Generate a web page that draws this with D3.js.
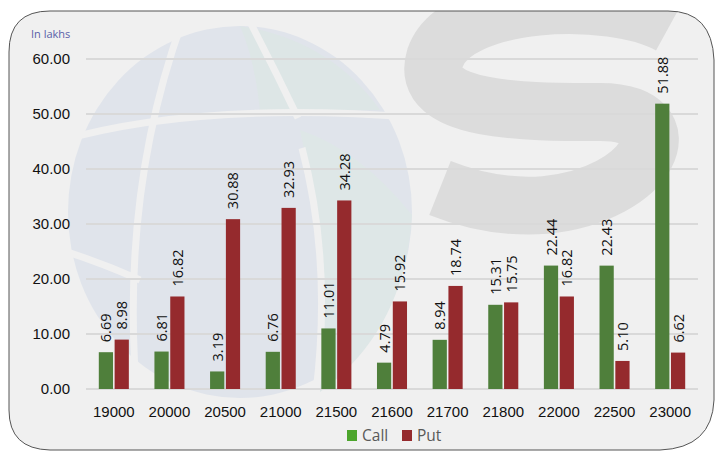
<!DOCTYPE html>
<html>
<head>
<meta charset="utf-8">
<script src="https://cdn.jsdelivr.net/npm/d3@7"></script>
<style>
  body { margin: 0; background: #fff; }
  svg { font-family: "Open Sans", "Noto Sans", sans-serif; }
</style>
</head>
<body>
<div id="chart-area"></div>
<script>
// strike prices and open interest (in lakhs)
var strikes = ["19000", "20000", "20500", "21000", "21500", "21600", "21700", "21800", "22000", "22500", "23000"];
var callValues = [6.69, 6.81, 3.19, 6.76, 11.01, 4.79, 8.94, 15.31, 22.44, 22.43, 51.88];
var putValues = [8.98, 16.82, 30.88, 32.93, 34.28, 15.92, 18.74, 15.75, 16.82, 5.10, 6.62];
var yTicks = [0, 10, 20, 30, 40, 50, 60];
var seriesNames = ["Call", "Put"];

var W = 715, H = 453;
var margin = { left: 86, right: 17, top: 59, bottom: 64 };
var w = W - margin.left - margin.right;
var h = H - margin.top - margin.bottom;

var green = "#4f7f3b", red = "#952a2d";

var svg = d3.select("#chart-area")
    .append("svg")
    .attr("width", W)
    .attr("height", H);

// card background
var cardPath = "M9,52 Q9,11 50,11 L668,11 Q712,11 714,60 L714,400 Q712,448 660,450 L50,450 Q9,449 9,410 Z";
svg.append("clipPath").attr("id", "card")
    .append("path").attr("d", cardPath);
svg.append("path")
    .attr("d", cardPath)
    .attr("fill", "#f0f0f0");

// faint logo behind the plot: a segmented globe and a large S
var wm = svg.append("g").attr("clip-path", "url(#card)");
wm.append("ellipse")
    .attr("cx", 240).attr("cy", 212)
    .attr("rx", 172).attr("ry", 186)
    .attr("fill", "#e0e4eb");
wm.append("path")
    .attr("d", "M300,130 Q360,150 412,215 Q405,330 320,392 Q330,260 300,130 Z")
    .attr("fill", "#dee7e7");
wm.append("path")
    .attr("d", "M240,26 Q330,40 380,110 L260,112 Q255,60 240,26 Z")
    .attr("fill", "#dde6e6");
var cuts = [
    "M55,142 Q200,100 420,118",
    "M182,22 Q118,200 138,410",
    "M250,22 Q275,70 298,118",
    "M302,148 Q332,262 316,392",
    "M55,248 Q100,262 140,280"
];
wm.selectAll("path.cut")
    .data(cuts)
    .enter()
    .append("path")
    .attr("class", "cut")
    .attr("d", function (d) { return d; })
    .attr("fill", "none")
    .attr("stroke", "#f0f0f0")
    .attr("stroke-width", 7);
wm.append("path")
    .attr("d", "M670,25 C610,-8 455,-2 435,58 C418,112 525,112 600,112 C690,112 650,195 545,205 C505,208 470,200 440,188")
    .attr("fill", "none")
    .attr("stroke", "#dcdcdc")
    .attr("stroke-width", 58);

// card outline
svg.append("path")
    .attr("d", cardPath)
    .attr("fill", "none")
    .attr("stroke", "#555")
    .attr("stroke-width", 1);

var g = svg.append("g")
    .attr("transform", "translate(" + margin.left + "," + margin.top + ")");

var x = d3.scaleBand()
    .domain(strikes)
    .range([0, w])
    .paddingInner(0.46)
    .paddingOuter(0.23);

var x1 = d3.scaleBand()
    .domain(seriesNames)
    .range([0, x.bandwidth()])
    .paddingInner(0.1);

var y = d3.scaleLinear()
    .domain([0, 60])
    .range([h, 0]);

// gridlines
g.selectAll(".grid")
    .data(yTicks)
    .enter()
    .append("line")
    .attr("class", "grid")
    .attr("x1", 0)
    .attr("x2", w)
    .attr("y1", function (d) { return y(d); })
    .attr("y2", function (d) { return y(d); })
    .attr("stroke", "#d9d9d9")
    .attr("stroke-width", 2);

var yAxis = d3.axisLeft(y).tickValues(yTicks).tickSize(0).tickPadding(16)
    .tickFormat(function (d) { return d.toFixed(2); });
g.append("g")
    .call(yAxis)
    .call(function (a) { a.select(".domain").remove(); })
    .selectAll("text")
    .attr("font-size", "15px")
    .attr("fill", "#111");

var xAxis = d3.axisBottom(x).tickSize(0).tickPadding(17);
g.append("g")
    .attr("transform", "translate(0," + h + ")")
    .call(xAxis)
    .call(function (a) { a.select(".domain").remove(); })
    .selectAll("text")
    .attr("font-size", "15px")
    .attr("fill", "#111");

var rows = strikes.map(function (s, i) {
    return [
        { strike: s, key: "Call", v: callValues[i] },
        { strike: s, key: "Put", v: putValues[i] }
    ];
});

var groups = g.selectAll(".strike")
    .data(rows)
    .enter()
    .append("g")
    .attr("transform", function (d) { return "translate(" + x(d[0].strike) + ",0)"; });

groups.selectAll("rect")
    .data(function (d) { return d; })
    .enter()
    .append("rect")
    .attr("x", function (d) { return x1(d.key); })
    .attr("y", function (d) { return y(d.v); })
    .attr("width", x1.bandwidth())
    .attr("height", function (d) { return h - y(d.v); })
    .attr("fill", function (d) { return d.key === "Call" ? green : red; });

groups.selectAll("text.val")
    .data(function (d) { return d; })
    .enter()
    .append("text")
    .attr("class", "val")
    .attr("transform", function (d) {
        return "translate(" + (x1(d.key) + x1.bandwidth() / 2 + 5.5) + "," + (y(d.v) - 10) + ") rotate(-90)";
    })
    .attr("font-size", "14.5px")
    .attr("fill", "#111")
    .text(function (d) { return d.v.toFixed(2); });

svg.append("text")
    .attr("x", 31)
    .attr("y", 38)
    .attr("font-size", "11px")
    .attr("fill", "#5a5fa8")
    .text("In lakhs");

// legend
var legend = svg.append("g").attr("transform", "translate(347,430)");
var legendItems = legend.selectAll("g")
    .data(seriesNames)
    .enter()
    .append("g")
    .attr("transform", function (d, i) { return "translate(" + (i * 55) + ",0)"; });
legendItems.append("rect")
    .attr("width", 10)
    .attr("height", 11)
    .attr("fill", function (d) { return d === "Call" ? "#4ca52c" : red; });
legendItems.append("text")
    .attr("x", 15)
    .attr("y", 11)
    .attr("font-size", "15.5px")
    .attr("fill", "#595959")
    .text(function (d) { return d; });
</script>
</body>
</html>
